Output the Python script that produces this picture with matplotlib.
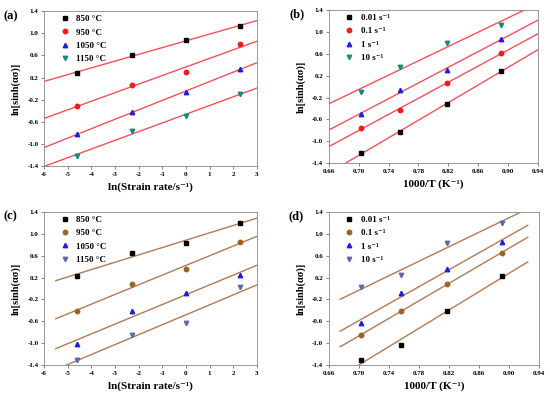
import matplotlib
matplotlib.use("Agg")
import matplotlib.pyplot as plt
import numpy as np

plt.rcParams['font.family'] = ['Liberation Serif', 'DejaVu Serif']
plt.rcParams['font.weight'] = 'bold'

# data
ln_rate = [-4.6, -2.3, 0.0, 2.3]
inv_T = [0.7027, 0.7559, 0.8177, 0.8905]

temp_labels = ['850 °C', '950 °C', '1050 °C', '1150 °C']
rate_labels = ['0.01 s⁻¹', '0.1 s⁻¹', '1 s⁻¹', '10 s⁻¹']

# panel (a): rows = temperatures, cols = ln strain rate
a_850 = [0.28, 0.61, 0.87, 1.13]
a_950 = [-0.31, 0.06, 0.30, 0.80]
a_1050 = [-0.83, -0.42, -0.07, 0.36]
a_1150 = [-1.22, -0.76, -0.50, -0.10]

# panel (b): rows = strain rates, cols = 1000/T
b_001 = [-1.22, -0.83, -0.31, 0.28]
b_01 = [-0.76, -0.42, 0.06, 0.61]
b_1 = [-0.50, -0.07, 0.30, 0.87]
b_10 = [-0.10, 0.36, 0.80, 1.13]

# panel (c)
c_850 = [0.23, 0.65, 0.83, 1.20]
c_950 = [-0.42, 0.09, 0.35, 0.85]
c_1050 = [-1.02, -0.42, -0.08, 0.24]
c_1150 = [-1.30, -0.85, -0.63, 0.02]

# panel (d)
d_001 = [-1.30, -1.03, -0.42, 0.23]
d_01 = [-0.85, -0.42, 0.09, 0.65]
d_1 = [-0.63, -0.08, 0.35, 0.85]
d_10 = [0.02, 0.24, 0.84, 1.20]

markers = ['s', 'o', '^', 'v']
colors_top = ['black', '#ee1c1c', '#1f1fd6', '#138a7a']
colors_bot = ['black', '#9c6226', '#1f1fd6', '#5b6aa8']
line_top = '#f5505a'
line_bot = '#b27a55'


def panel(ax, x, series, labels, colors, linecolor, xfit, xlim, xticks,
          xlabel, xfmt, tag, leg_x):
    for ys, lab, c, m in zip(series, labels, colors, markers):
        ax.plot(x, ys, linestyle='none', marker=m, color=c, markersize=3.2,
                label=lab)
        # linear fit through the points of each series
        k, b = np.polyfit(x, ys, 1)
        xx = np.array(xfit)
        ax.plot(xx, k * xx + b, color=linecolor, lw=1.0, zorder=1)
    ax.set_xlim(xlim)
    ax.set_ylim(-1.4, 1.4)
    ax.set_xticks(xticks)
    ax.set_xticklabels([xfmt.format(t) for t in xticks])
    yt = np.arange(-1.4, 1.41, 0.4)
    ax.set_yticks(yt)
    ax.set_yticklabels(['{:.1f}'.format(t) for t in yt])
    ax.tick_params(labelsize=5, length=2, width=0.5, pad=2, color='#555555')
    for s in ax.spines.values():
        s.set_linewidth(0.6)
        s.set_color('#888888')
    ax.set_xlabel(xlabel, fontsize=8, fontweight='bold', labelpad=4)
    ax.set_ylabel('ln[sinh(ασ)]', fontsize=7.5, fontweight='bold', labelpad=5)
    ax.text(-0.19, 0.97, tag, transform=ax.transAxes, fontsize=9,
            fontweight='bold', ha='left', va='center')
    ax.legend(loc='upper left', bbox_to_anchor=(leg_x, 1.01), frameon=False,
              fontsize=6.5, handlelength=1.0, handletextpad=0.8,
              labelspacing=0.55, borderaxespad=0.2)


fig = plt.figure(figsize=(5.5, 3.99), dpi=100)

ax_a = fig.add_axes([0.080, 0.584, 0.387, 0.388])
ax_b = fig.add_axes([0.598, 0.591, 0.380, 0.384])
ax_c = fig.add_axes([0.080, 0.085, 0.387, 0.384])
ax_d = fig.add_axes([0.598, 0.085, 0.382, 0.384])

x_ticks_rate = list(range(-6, 4))
x_ticks_T = [0.66, 0.70, 0.74, 0.78, 0.82, 0.86, 0.90, 0.94]

panel(ax_a, ln_rate, [a_850, a_950, a_1050, a_1150], temp_labels, colors_top,
      line_top, [-6, 3], (-6, 3), x_ticks_rate, 'ln(Strain rate/s⁻¹)', '{:d}',
      '(a)', 0.05)
panel(ax_b, inv_T, [b_001, b_01, b_1, b_10], rate_labels, colors_top,
      line_top, [0.66, 0.94], (0.66, 0.94), x_ticks_T, '1000/T (K⁻¹)',
      '{:.2f}', '(b)', 0.05)
panel(ax_c, ln_rate, [c_850, c_950, c_1050, c_1150], temp_labels, colors_bot,
      line_bot, [-5.5, 3], (-6, 3), x_ticks_rate, 'ln(Strain rate/s⁻¹)',
      '{:d}', '(c)', 0.05)
panel(ax_d, inv_T, [d_001, d_01, d_1, d_10], rate_labels, colors_bot,
      line_bot, [0.675, 0.925], (0.66, 0.94), x_ticks_T, '1000/T (K⁻¹)',
      '{:.2f}', '(d)', 0.05)

fig.savefig('out.png', dpi=100)
